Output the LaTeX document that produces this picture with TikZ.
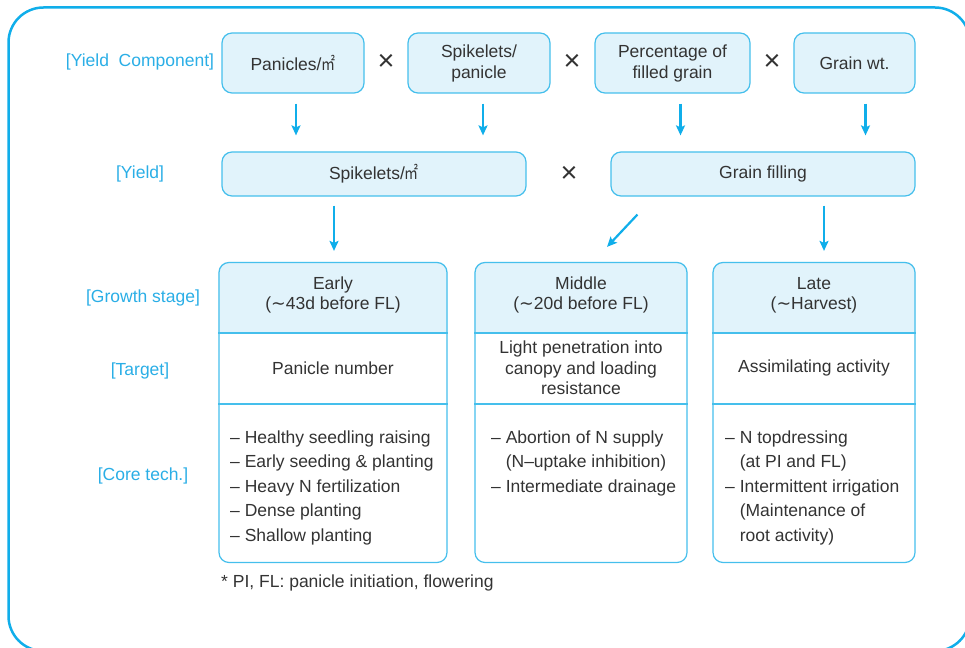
\documentclass[tikz,border=0pt]{standalone}
\usepackage{fontspec}
\usepackage{graphicx}
\setmainfont{Liberation Sans}
\newfontfamily\cjkfont{Noto Sans CJK SC}
\newfontfamily\symfont{DejaVu Sans}
\usetikzlibrary{arrows.meta,backgrounds}

\definecolor{frameblue}{HTML}{10AEEA}
\definecolor{boxline}{HTML}{45BFEC}
\definecolor{boxfill}{HTML}{E1F3FB}
\definecolor{labelblue}{HTML}{2AAEE6}
\definecolor{ink}{HTML}{333333}

\newcommand{\sqmeter}{{\cjkfont\scalebox{0.8}[1]{㎡}}}
\newcommand{\tildesym}{{\symfont ∼}}

\begin{document}
\begin{tikzpicture}[x=1pt,y=-1pt,
  every node/.style={inner sep=0pt, text=ink},
  comp/.style={draw=boxline, fill=boxfill, line width=1.2pt, rounded corners=10pt,
    align=center, font=\fontsize{17.5}{21}\selectfont},
  colbox/.style={draw=boxline, line width=1.2pt, rounded corners=10pt,
    minimum height=300pt},
  divider/.style={draw=boxline, line width=2pt},
  rowlabel/.style={text=labelblue, font=\fontsize{17.5}{21}\selectfont},
  timessign/.style={font=\fontsize{29}{29}\selectfont},
  hdtext/.style={align=center, font=\fontsize{17.5}{20}\selectfont},
  tgtext/.style={align=center, font=\fontsize{17.5}{20.5}\selectfont},
  coretext/.style={align=left, anchor=north west, font=\fontsize{17.5}{24.5}\selectfont},
  arr/.style={draw=frameblue, line width=2.2pt, -{Stealth[length=10pt,width=9pt,inset=2pt]}},
  outerframe/.style={draw=frameblue, line width=2.5pt, rounded corners=35pt}]

\useasboundingbox (0,0) rectangle (965,647);
\begin{scope}
  \clip (0,0) rectangle (965,647);
  \draw[outerframe] (8.5,7.5) rectangle (970,651);
\end{scope}

% row labels
\node[rowlabel] (lyc) at (140,62) {[Yield~~Component]};
\node[rowlabel] (ly)  at (140,174) {[Yield]};
\node[rowlabel] (lgs) at (143,298) {[Growth stage]};
\node[rowlabel] (ltg) at (140,371) {[Target]};
\node[rowlabel] (lct) at (143,476) {[Core tech.]};

% yield components
\node[comp, minimum width=142pt, minimum height=60pt] (pan) at (293,63) {Panicles/\sqmeter};
\node[comp, minimum width=142pt, minimum height=60pt] (spp) at (479,63) {Spikelets/\\panicle};
\node[comp, minimum width=155pt, minimum height=60pt] (pct) at (672.5,63) {Percentage of\\filled grain};
\node[comp, minimum width=121pt, minimum height=60pt] (gw)  at (854.5,63) {Grain wt.};
\node[timessign] (t1) at (386,62) {×};
\node[timessign] (t2) at (572,62) {×};
\node[timessign] (t3) at (772,62) {×};

% yield
\node[comp, minimum width=304pt, minimum height=44pt] (spm) at (374,174) {Spikelets/\sqmeter};
\node[comp, minimum width=304pt, minimum height=44pt] (gf)  at (763,174) {Grain filling};
\node[timessign] (t4) at (569,174) {×};

% growth stage columns
\node[colbox, minimum width=228pt] (early) at (333,412.5) {};
\node[colbox, minimum width=212pt] (mid)   at (581,412.5) {};
\node[colbox, minimum width=202pt] (late)  at (814,412.5) {};

\begin{scope}[on background layer]
  \foreach \c in {early,mid,late}{
    \fill[boxfill, rounded corners=10pt] (\c.north west) rectangle (\c.east |- 0,350);
    \fill[white] (\c.west |- 0,333) rectangle (\c.east |- 0,352);
  }
\end{scope}
\foreach \c in {early,mid,late}{
  \draw[divider] (\c.west |- 0,333) -- (\c.east |- 0,333);
  \draw[divider] (\c.west |- 0,403.5) -- (\c.east |- 0,403.5);
}

\node[hdtext] (eh) at (333,295) {Early\\(\tildesym 43d before FL)};
\node[hdtext] (mh) at (581,295) {Middle\\(\tildesym 20d before FL)};
\node[hdtext] (lh) at (814,295) {Late\\(\tildesym Harvest)};

\node[tgtext] (et) at (333,368) {Panicle number};
\node[tgtext] (mt) at (581,368) {Light penetration into\\canopy and loading\\resistance};
\node[tgtext] (lt) at (814,368) {Assimilating activity};

\node[coretext] (ec) at (230,430.5) {– Healthy seedling raising\\– Early seeding \& planting\\– Heavy N fertilization\\– Dense planting\\– Shallow planting};
\node[coretext] (mc) at (491,430.5) {– Abortion of N supply\\\phantom{– }(N–uptake inhibition)\\– Intermediate drainage};
\node[coretext] (lc) at (725,430.5) {– N topdressing\\\phantom{– }(at PI and FL)\\– Intermittent irrigation\\\phantom{– }(Maintenance of\\\phantom{– }root activity)};

\node[anchor=west, font=\fontsize{17.5}{21}\selectfont] (note) at (221,583) {* PI, FL: panicle initiation, flowering};

% arrows
\draw[arr, shorten <=10pt, shorten >=16pt] ([xshift=3pt]pan.south) -- ([xshift=3pt]pan.south |- spm.north);
\draw[arr, shorten <=10pt, shorten >=16pt] ([xshift=4pt]spp.south) -- ([xshift=4pt]spp.south |- spm.north);
\draw[arr, shorten <=10pt, shorten >=16pt] ([xshift=8pt]pct.south) -- ([xshift=8pt]pct.south |- gf.north);
\draw[arr, shorten <=10pt, shorten >=16pt] ([xshift=11pt]gw.south) -- ([xshift=11pt]gw.south |- gf.north);

\draw[arr, shorten <=9pt, shorten >=11pt] ([xshift=1pt]early.north |- spm.south) -- ([xshift=1pt]early.north);
\draw[arr] ([xshift=27pt,yshift=-18pt]gf.south west) -- ([xshift=26pt,yshift=15pt]mid.north);
\draw[arr, shorten <=9pt, shorten >=11pt] ([xshift=10pt]late.north |- gf.south) -- ([xshift=10pt]late.north);
\end{tikzpicture}
\end{document}
